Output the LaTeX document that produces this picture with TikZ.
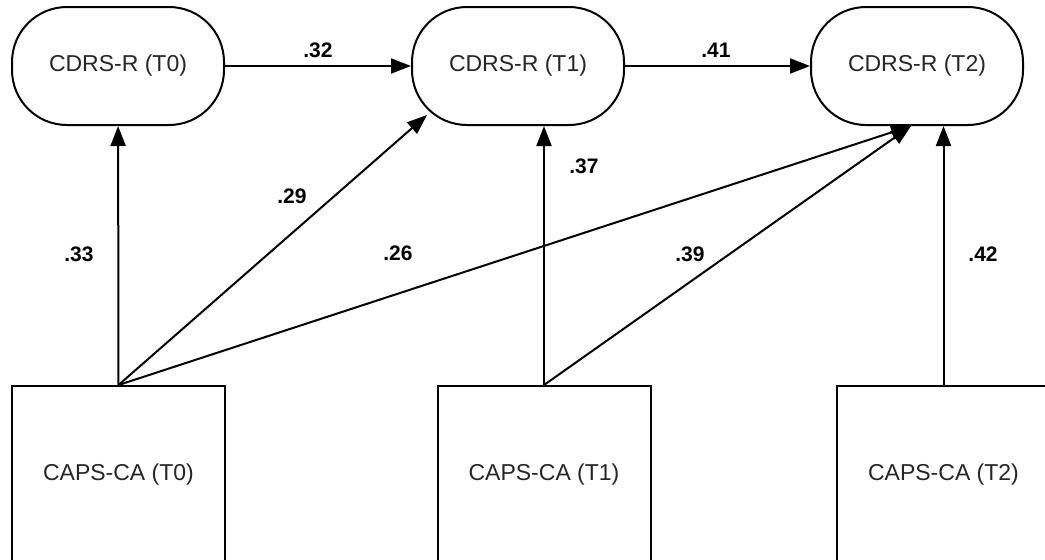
\documentclass[tikz,border=0pt]{standalone}
\usepackage{fontspec}
\setmainfont{Liberation Sans}
\usetikzlibrary{arrows.meta}
\begin{document}
\begin{tikzpicture}[x=1pt,y=-1pt,
    outcome/.style={draw, line width=2pt, rounded corners=55pt, fill=white,
      minimum width=212pt, minimum height=118pt,
      font=\fontsize{23}{27}\selectfont, text=black!85},
    anxiety/.style={draw, line width=2pt, fill=white,
      minimum width=213pt, minimum height=178pt,
      font=\fontsize{23}{27}\selectfont, text=black!85},
    path/.style={line width=2pt, -{Triangle[length=20pt,width=15pt]}},
    coef/.style={font=\bfseries\fontsize{21}{25}\selectfont}]
  \useasboundingbox (0,0) rectangle (1045,560);

  \node [outcome] (d0) at (118,66) {CDRS-R (T0)};
  \node [outcome] (d1) at (518,66) {CDRS-R (T1)};
  \node [outcome] (d2) at (917,66) {CDRS-R (T2)};

  \node [anxiety] (c0) at (118.5,475) {CAPS-CA (T0)};
  \node [anxiety] (c1) at (544,475) {CAPS-CA (T1)};
  \node [anxiety] (c2) at (943.5,475) {CAPS-CA (T2)};

  % ends on the rounded corners
  \coordinate (d1in) at ([xshift=16pt,yshift=11pt]d1.south west);
  \coordinate (d2in) at ([xshift=-6pt]d2.south);

  \draw [path] (d0) -- (d1);
  \draw [path] (d1) -- (d2);
  \draw [path] (c0.north) -- (d0);
  \draw [path] (c0.north) -- (d1in);
  \draw [path] (c0.north) -- (d2in);
  \draw [path] (c1.north) -- (c1.north |- d1.south);
  \draw [path] (c1.north) -- (d2in);
  \draw [path] (c2.north) -- (c2.north |- d2.south);

  \node [coef] (b32) at (318,50) {.32};
  \node [coef] (b41) at (716,50) {.41};
  \node [coef] (b33) at (79,254) {.33};
  \node [coef] (b29) at (292,196) {.29};
  \node [coef] (b26) at (398,253) {.26};
  \node [coef] (b37) at (584,166) {.37};
  \node [coef] (b39) at (690,254) {.39};
  \node [coef] (b42) at (983,254) {.42};
\end{tikzpicture}
\end{document}
